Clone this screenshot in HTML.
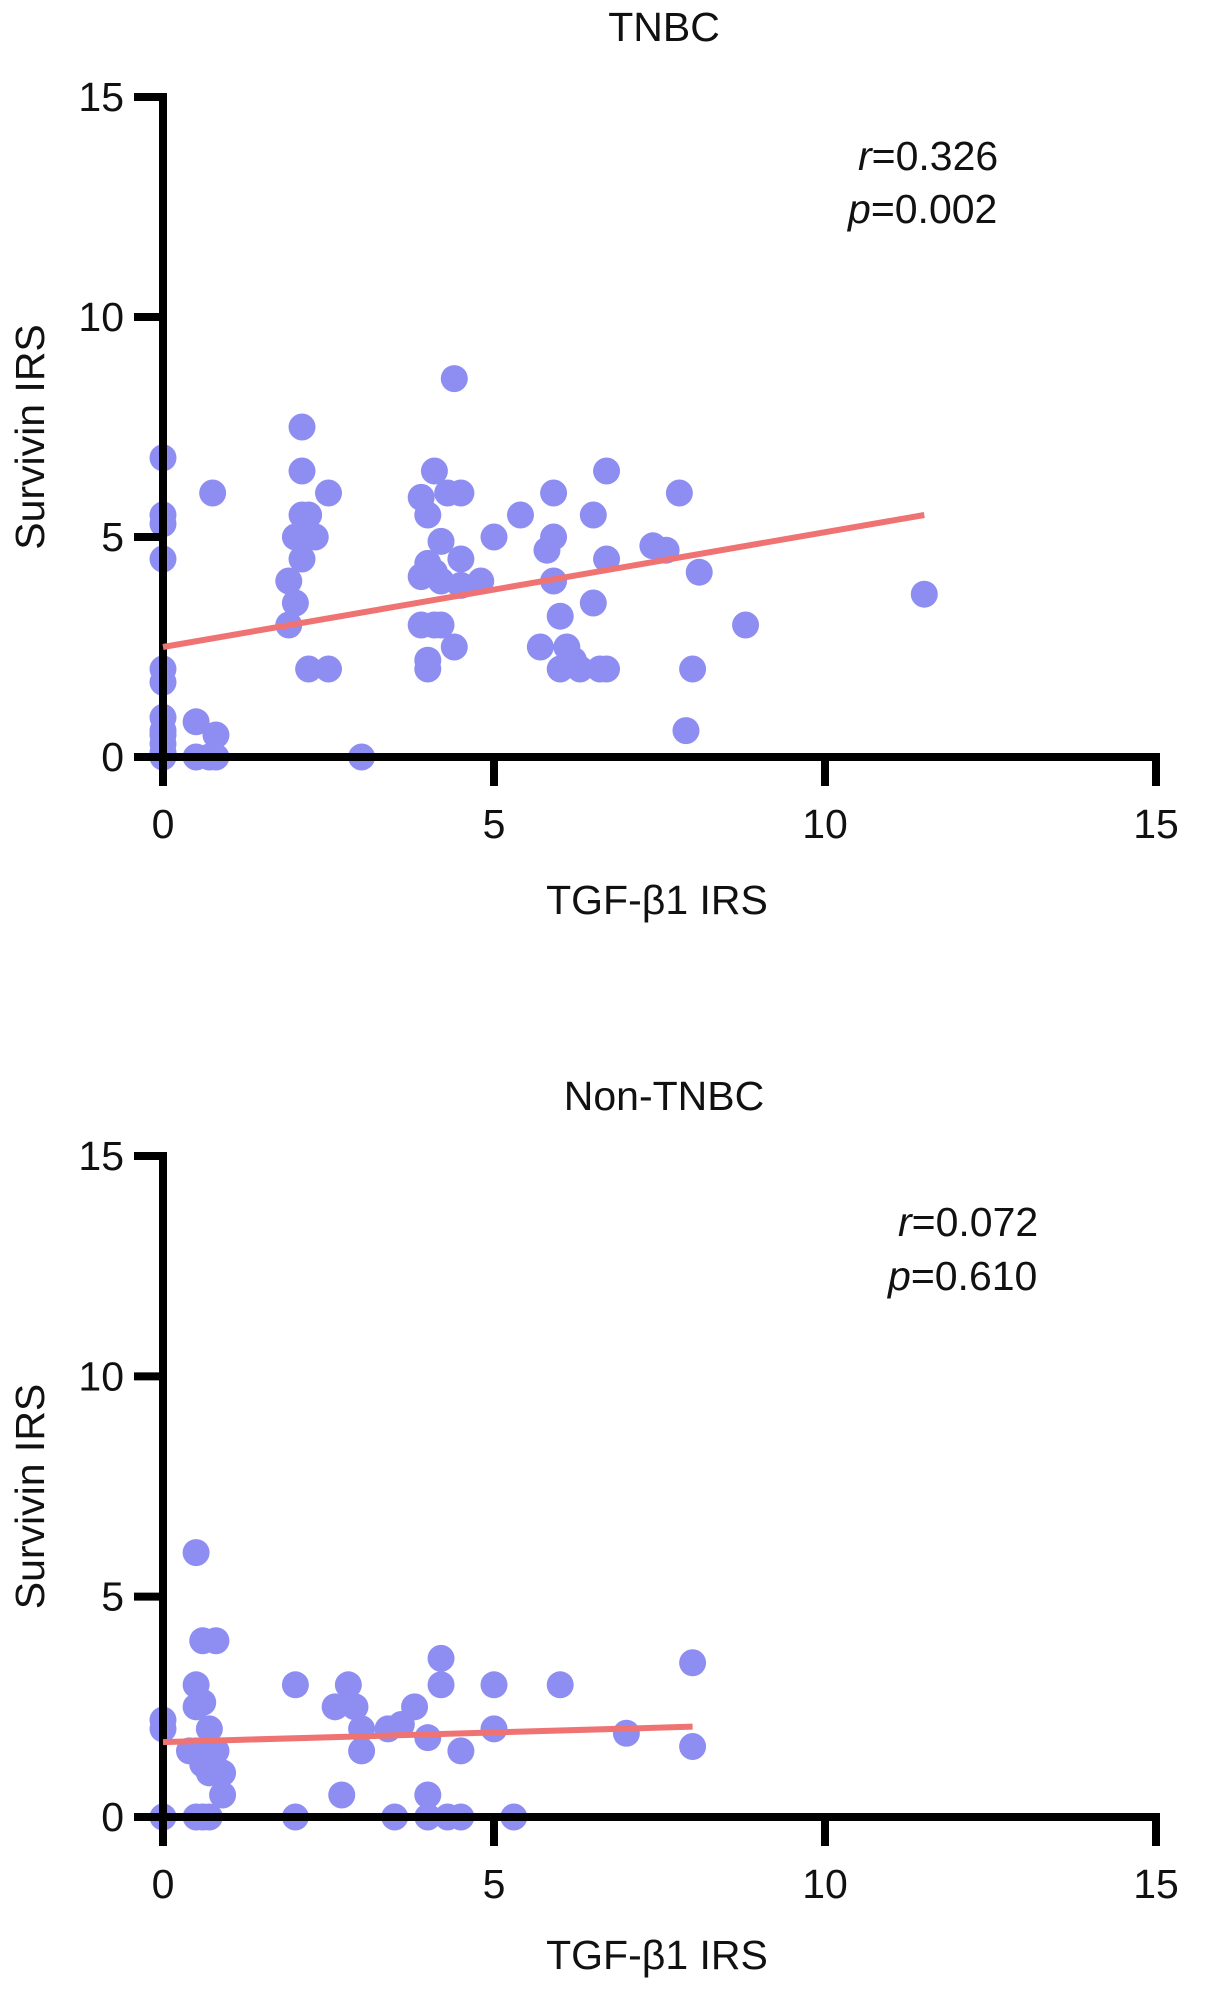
<!DOCTYPE html>
<html><head><meta charset="utf-8"><style>
html,body{margin:0;padding:0;background:#fff;}
svg{display:block;font-family:"Liberation Sans",Arial,sans-serif;}
</style></head><body>
<svg id="fig" width="1205" height="1990" viewBox="0 0 1205 1990"></svg>
<script>
const xTicks = [0, 5, 10, 15];
const yTicks = [0, 5, 10, 15];
const tnbcX = [0,0,0,0,0,0,0,0,0,0,0,0,0.5,0.5,0.7,0.8,0.8,0.75,1.9,2,1.9,2.1,2.1,2,2.1,2.2,2.3,2.1,2.2,2.5,2.5,3,3.9,4,4.1,4.3,4.5,4.4,4.2,4,3.9,4.1,4.2,4.5,4.5,3.9,4.1,4.2,4,4,4.4,4.8,5,5.4,5.7,5.8,5.9,5.9,5.9,6,6.1,6,6.2,6.3,6.5,6.5,6.6,6.7,6.7,6.7,7.4,7.6,7.8,7.9,8,8.1,8.8,11.5];
const tnbcY = [6.8,5.5,5.3,4.5,2.0,1.7,0.9,0.6,0.3,0,0.5,0.1,0.8,0,0,0.5,0,6.0,4.0,3.5,3.0,7.5,6.5,5.0,4.5,5.5,5.0,5.5,2.0,6.0,2.0,0,5.9,5.5,6.5,6,6,8.6,4.9,4.4,4.1,4.2,4.0,4.5,3.9,3.0,3.0,3.0,2.2,2.0,2.5,4.0,5,5.5,2.5,4.7,5.0,6.0,4.0,3.2,2.5,2.0,2.2,2.0,5.5,3.5,2.0,4.5,2.0,6.5,4.8,4.7,6.0,0.6,2.0,4.2,3.0,3.7];
const tnbcFitX = [0, 11.5];
const tnbcFitY = [2.5, 5.5];
const nonX = [0,0,0,0.5,0.5,0.5,0.5,0.4,0.6,0.8,0.6,0.6,0.7,0.8,0.7,0.9,0.5,0.7,0.9,0.6,2,2,2.6,2.8,2.9,3,3,2.7,3.4,3.6,3.8,4.0,3.5,4,4,4.2,4.2,4.3,4.5,4.5,5,5,5.3,6,7,8,8];
const nonY = [2.2,2.0,0,6.0,3.0,2.5,1.5,1.5,4,4,2.6,1.2,1.0,1.5,2.0,0.5,0,0,1.0,0,3,0,2.5,3.0,2.5,2.0,1.5,0.5,2.0,2.1,2.5,1.8,0,0.5,0,3.6,3.0,0,1.5,0,3,2,0,3,1.9,3.5,1.6];
const nonFitX = [0, 8];
const nonFitY = [1.7, 2.05];

const NS = "http://www.w3.org/2000/svg";
const svg = document.getElementById('fig');
function mk(tag, attrs, parent, text){
  const e = document.createElementNS(NS, tag);
  for (const k in attrs) e.setAttribute(k, attrs[k]);
  if (text !== undefined) e.textContent = text;
  parent.appendChild(e); return e;
}
function panel(prefix, y0px, y15px, title, titleY, rTxt, pTxt, rY, pY, rX, xTitleY, xs, ys, fx, fy){
  const X0 = 163, X15 = 1156;
  const sx = v => X0 + (X15 - X0) * v / 15;
  const sy = v => y0px + (y15px - y0px) * v / 15;
  const g = mk('g', {}, svg);
  
  
  const t = mk('text', {x: 664, y: titleY + 14, 'text-anchor': 'middle', 'font-size': 41, fill: '#111'}, g, title);
  
  
  const pts = mk('g', {}, g);
  
  
  for (let i = 0; i < xs.length; i++){
    const c = mk('circle', {cx: sx(xs[i]), cy: sy(ys[i]), r: 13.5, fill: '#8e8ef2'}, pts);
    
    
  }
  const ax = mk('g', {stroke: '#000', 'stroke-width': 8, fill: 'none'}, g);
  
  
  mk('path', {d: `M${X0} ${y15px}V${y0px}H${X15}`, 'stroke-linecap':'square'}, ax);
  xTicks.forEach(v => {
    mk('line', {x1: sx(v), x2: sx(v), y1: y0px, y2: y0px + 29}, ax);
    const l = mk('text', {x: sx(v), y: y0px + 81, 'text-anchor': 'middle', 'font-size': 41, fill: '#111', stroke: 'none'}, g, String(v));
    
    
  });
  yTicks.forEach(v => {
    mk('line', {x1: X0 - 29, x2: X0, y1: sy(v), y2: sy(v)}, ax);
    const l = mk('text', {x: 124, y: sy(v) + 14, 'text-anchor': 'end', 'font-size': 41, fill: '#111', stroke: 'none'}, g, String(v));
    
    
  });
  const fit = mk('line', {x1: sx(fx[0]), y1: sy(fy[0]), x2: sx(fx[1]), y2: sy(fy[1]), stroke: '#f07373', 'stroke-width': 6}, g);
  
  
  const r = mk('text', {x: rX, y: rY + 14, 'font-size': 41, fill: '#111'}, g);
  
  
  mk('tspan', {'font-style': 'italic'}, r, 'r');
  mk('tspan', {}, r, '=' + rTxt);
  const p = mk('text', {x: rX - 10, y: pY + 14, 'font-size': 41, fill: '#111'}, g);
  
  
  mk('tspan', {'font-style': 'italic'}, p, 'p');
  mk('tspan', {}, p, '=' + pTxt);
  const xt = mk('text', {x: 657, y: xTitleY + 14, 'text-anchor': 'middle', 'font-size': 41, fill: '#111'}, g, 'TGF-β1 IRS');
  
  
  const yc = (y0px + y15px) / 2 + 10;
  const yt = mk('text', {x: 0, y: 0, 'text-anchor': 'middle', 'font-size': 41, fill: '#111', transform: `translate(44 ${yc}) rotate(-90)`}, g, 'Survivin IRS');
  
  
}
panel('tnbc', 757, 97, 'TNBC', 27, '0.326', '0.002', 156, 209, 858, 900, tnbcX, tnbcY, tnbcFitX, tnbcFitY);
panel('non-tnbc', 1817, 1156, 'Non-TNBC', 1096, '0.072', '0.610', 1222, 1276, 898, 1955, nonX, nonY, nonFitX, nonFitY);
</script>
</body></html>
